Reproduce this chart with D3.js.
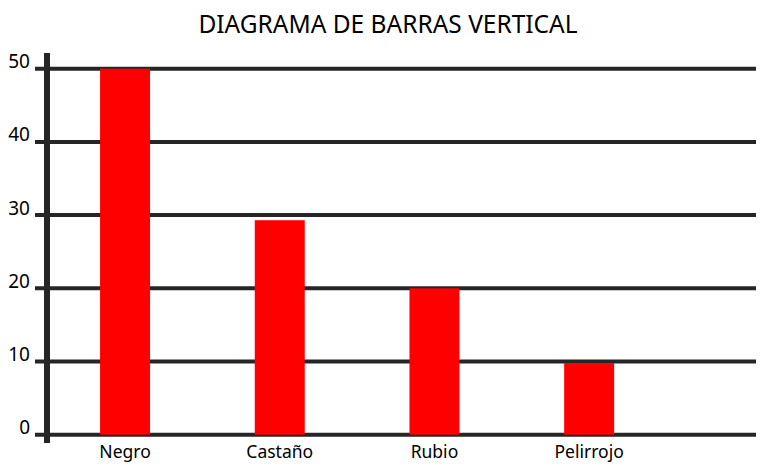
<!DOCTYPE html>
<html>
<head>
<meta charset="utf-8">
<script src="https://cdn.jsdelivr.net/npm/d3@7"></script>
<style>
  body { margin: 0; background: #fff; }
  text { font-family: "Noto Sans", "Open Sans", sans-serif; fill: #000; }
</style>
</head>
<body>
<script>
// data
var categories = ["Negro", "Castaño", "Rubio", "Pelirrojo"]
var values = [50, 29.3, 20, 9.8]
var yTicks = [0, 10, 20, 30, 40, 50]

var width = 780,
    height = 465

var svg = d3.select("body")
  .append("svg")
  .attr("width", width)
  .attr("height", height)

// scales
var x = d3.scaleBand()
  .domain(categories)
  .range([47.7, 666.5])
  .paddingInner(0.677)
  .paddingOuter(0.3385)

var y = d3.scaleLinear()
  .domain([0, 50])
  .range([434.7, 68.7])

// title
svg.append("text")
  .attr("x", 388)
  .attr("y", 33)
  .attr("text-anchor", "middle")
  .style("font-size", "24.5px")
  .text("DIAGRAMA DE BARRAS VERTICAL")

// horizontal grid lines
svg.selectAll("gridlines")
  .data(yTicks)
  .enter()
  .append("line")
    .attr("x1", 35)
    .attr("x2", 756)
    .attr("y1", function(d){ return y(d) })
    .attr("y2", function(d){ return y(d) })
    .attr("stroke", "#262626")
    .attr("stroke-width", 4)

// vertical axis line
svg.append("line")
  .attr("x1", 47)
  .attr("x2", 47)
  .attr("y1", 53)
  .attr("y2", 443)
  .attr("stroke", "#262626")
  .attr("stroke-width", 6)

// tick labels sit just above their line
svg.selectAll("ticklabels")
  .data(yTicks)
  .enter()
  .append("text")
    .attr("x", 30)
    .attr("y", function(d){ return y(d) - 0.5 })
    .attr("text-anchor", "end")
    .style("font-size", "19px")
    .text(function(d){ return d })

// bars (drawn over the grid)
svg.selectAll("bars")
  .data(values)
  .enter()
  .append("rect")
    .attr("x", function(d, i){ return x(categories[i]) })
    .attr("width", x.bandwidth())
    .attr("y", function(d){ return y(d) })
    .attr("height", function(d){ return y(0) - y(d) })
    .attr("fill", "#ff0000")

// category labels
svg.selectAll("catlabels")
  .data(categories)
  .enter()
  .append("text")
    .attr("x", function(d){ return x(d) + x.bandwidth()/2 })
    .attr("y", 458)
    .attr("text-anchor", "middle")
    .style("font-size", "17.5px")
    .text(function(d){ return d })
</script>
</body>
</html>
